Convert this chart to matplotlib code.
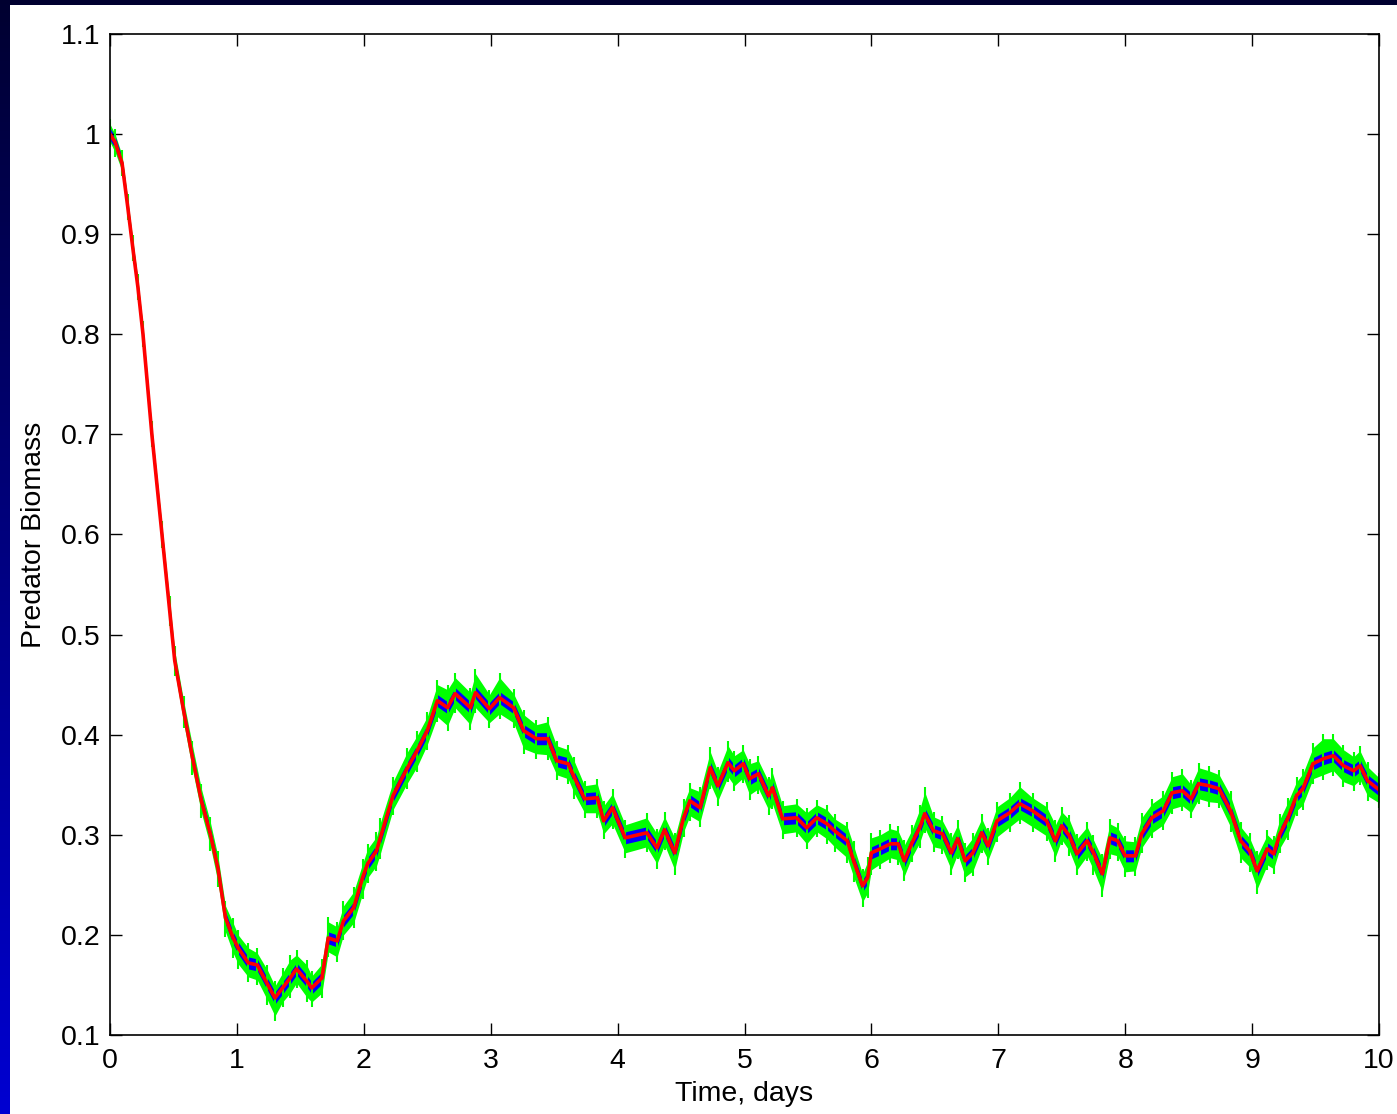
import numpy as np
import matplotlib
matplotlib.use("Agg")
import matplotlib.pyplot as plt
from matplotlib.patches import Rectangle

# centre path of the runs (red line)
t_days = [0.00, 0.04, 0.095, 0.14, 0.18, 0.22, 0.26, 0.33, 0.41, 0.47,
          0.51, 0.58, 0.65, 0.72, 0.79, 0.85, 0.91, 0.97, 1.01, 1.09,
          1.16, 1.24, 1.30, 1.36, 1.42, 1.47, 1.55, 1.59, 1.67, 1.72,
          1.79, 1.84, 1.92, 1.99, 2.03, 2.10, 2.13, 2.23, 2.34, 2.42,
          2.50, 2.58, 2.66, 2.72, 2.84, 2.88, 2.99, 3.07, 3.18, 3.26,
          3.36, 3.45, 3.52, 3.61, 3.66, 3.74, 3.84, 3.89, 3.96, 4.06,
          4.23, 4.31, 4.37, 4.45, 4.52, 4.57, 4.65, 4.73, 4.79, 4.87,
          4.92, 4.99, 5.04, 5.11, 5.19, 5.22, 5.30, 5.41, 5.49, 5.57,
          5.65, 5.71, 5.81, 5.86, 5.93, 5.97, 6.00, 6.07, 6.15, 6.21,
          6.26, 6.32, 6.38, 6.42, 6.49, 6.56, 6.63, 6.68, 6.74, 6.80,
          6.87, 6.92, 6.99, 7.09, 7.17, 7.27, 7.38, 7.45, 7.50, 7.56,
          7.62, 7.70, 7.75, 7.82, 7.88, 7.94, 8.00, 8.08, 8.13, 8.21,
          8.30, 8.37, 8.45, 8.52, 8.58, 8.66, 8.74, 8.83, 8.91, 8.98,
          9.04, 9.12, 9.17, 9.22, 9.28, 9.35, 9.40, 9.48, 9.56, 9.64,
          9.72, 9.80, 9.85, 9.91, 10.00]

biomass = [1.000, 0.992, 0.971, 0.927, 0.886, 0.847, 0.800, 0.700, 0.600, 0.524,
           0.474, 0.424, 0.377, 0.334, 0.301, 0.267, 0.217, 0.197, 0.187, 0.172,
           0.170, 0.151, 0.137, 0.147, 0.157, 0.166, 0.154, 0.147, 0.157, 0.197,
           0.194, 0.214, 0.227, 0.257, 0.271, 0.284, 0.297, 0.339, 0.366, 0.384,
           0.404, 0.434, 0.427, 0.441, 0.427, 0.442, 0.426, 0.437, 0.427, 0.404,
           0.396, 0.396, 0.374, 0.371, 0.357, 0.336, 0.337, 0.314, 0.327, 0.297,
           0.302, 0.287, 0.305, 0.282, 0.317, 0.334, 0.327, 0.367, 0.349, 0.372,
           0.364, 0.371, 0.356, 0.361, 0.339, 0.347, 0.316, 0.317, 0.307, 0.317,
           0.311, 0.304, 0.294, 0.274, 0.249, 0.257, 0.282, 0.286, 0.291, 0.291,
           0.274, 0.292, 0.307, 0.321, 0.304, 0.301, 0.282, 0.296, 0.274, 0.282,
           0.302, 0.289, 0.314, 0.322, 0.331, 0.324, 0.314, 0.294, 0.309, 0.299,
           0.281, 0.294, 0.282, 0.261, 0.297, 0.294, 0.279, 0.279, 0.301, 0.317,
           0.324, 0.342, 0.344, 0.336, 0.351, 0.349, 0.346, 0.324, 0.294, 0.284,
           0.264, 0.286, 0.281, 0.301, 0.316, 0.339, 0.346, 0.371, 0.376, 0.379,
           0.369, 0.364, 0.369, 0.354, 0.345]

# spread of the noisiest run (green) above / below the centre path
green_up = [0.010, 0.008, 0.008, 0.008, 0.008, 0.008, 0.008, 0.008, 0.008, 0.010,
            0.010, 0.010, 0.012, 0.012, 0.012, 0.012, 0.012, 0.015, 0.013, 0.015,
            0.012, 0.014, 0.012, 0.015, 0.018, 0.014, 0.016, 0.012, 0.014, 0.016,
            0.014, 0.015, 0.016, 0.014, 0.015, 0.014, 0.015, 0.014, 0.016, 0.015,
            0.014, 0.016, 0.018, 0.016, 0.015, 0.019, 0.014, 0.020, 0.014, 0.016,
            0.014, 0.017, 0.015, 0.014, 0.016, 0.013, 0.014, 0.015, 0.014, 0.013,
            0.015, 0.014, 0.013, 0.015, 0.014, 0.013, 0.016, 0.016, 0.014, 0.017,
            0.015, 0.014, 0.015, 0.013, 0.014, 0.015, 0.013, 0.014, 0.015, 0.013,
            0.014, 0.012, 0.014, 0.015, 0.012, 0.016, 0.015, 0.014, 0.015, 0.013,
            0.016, 0.013, 0.018, 0.022, 0.014, 0.013, 0.015, 0.014, 0.013, 0.015,
            0.014, 0.013, 0.014, 0.015, 0.017, 0.013, 0.014, 0.016, 0.014, 0.016,
            0.015, 0.014, 0.013, 0.015, 0.014, 0.013, 0.015, 0.014, 0.016, 0.014,
            0.015, 0.016, 0.017, 0.014, 0.016, 0.015, 0.014, 0.015, 0.014, 0.013,
            0.015, 0.014, 0.013, 0.015, 0.016, 0.014, 0.015, 0.016, 0.020, 0.017,
            0.016, 0.014, 0.015, 0.014, 0.012]

green_dn = [0.008, 0.010, 0.008, 0.008, 0.008, 0.008, 0.008, 0.008, 0.008, 0.010,
            0.010, 0.012, 0.012, 0.012, 0.012, 0.014, 0.014, 0.015, 0.016, 0.014,
            0.015, 0.016, 0.018, 0.014, 0.015, 0.014, 0.016, 0.014, 0.015, 0.014,
            0.016, 0.014, 0.015, 0.016, 0.014, 0.015, 0.016, 0.014, 0.015, 0.016,
            0.014, 0.016, 0.018, 0.014, 0.017, 0.015, 0.014, 0.016, 0.015, 0.018,
            0.015, 0.016, 0.014, 0.015, 0.016, 0.014, 0.015, 0.013, 0.016, 0.015,
            0.014, 0.016, 0.015, 0.017, 0.014, 0.015, 0.014, 0.016, 0.015, 0.014,
            0.015, 0.014, 0.016, 0.015, 0.014, 0.016, 0.015, 0.014, 0.016, 0.014,
            0.015, 0.016, 0.017, 0.016, 0.016, 0.015, 0.017, 0.015, 0.014, 0.016,
            0.015, 0.014, 0.015, 0.014, 0.016, 0.015, 0.017, 0.015, 0.016, 0.018,
            0.015, 0.014, 0.016, 0.014, 0.015, 0.016, 0.015, 0.016, 0.014, 0.015,
            0.016, 0.015, 0.017, 0.018, 0.016, 0.015, 0.016, 0.015, 0.014, 0.015,
            0.014, 0.016, 0.015, 0.014, 0.015, 0.016, 0.014, 0.016, 0.017, 0.016,
            0.018, 0.016, 0.015, 0.014, 0.016, 0.015, 0.016, 0.015, 0.016, 0.015,
            0.016, 0.015, 0.014, 0.015, 0.013]

# blue run sits close to the red one
blue_spread = 0.006

x_ticks = [0, 1, 2, 3, 4, 5, 6, 7, 8, 9, 10]
y_ticks = [0.1, 0.2, 0.3, 0.4, 0.5, 0.6, 0.7, 0.8, 0.9, 1.0, 1.1]
y_ticklabels = ["0.1", "0.2", "0.3", "0.4", "0.5", "0.6", "0.7", "0.8", "0.9", "1", "1.1"]

plt.rcParams['font.family'] = ['Liberation Sans', 'DejaVu Sans']

W, H = 1397, 1114
fig = plt.figure(figsize=(W / 100, H / 100), dpi=100)

# slide background: blue gradient strip on the left and a dark strip on top
bg = fig.add_axes([0, 0, 1, 1])
grad = np.linspace(0, 1, 256).reshape(-1, 1)
cols = np.zeros((256, 1, 3))
cols[:, 0, 2] = 0.19 + 0.63 * grad[:, 0]
bg.imshow(cols, aspect='auto', extent=[0, 1, 0, 1], origin='upper')
bg.add_patch(Rectangle((10 / W, 0), 1, (H - 5) / H, transform=bg.transAxes,
                       facecolor='white', edgecolor='none'))
bg.set_axis_off()

ax = fig.add_axes([110 / W, 79 / H, 1269 / W, 1001 / H])

t = np.array(t_days)
b = np.array(biomass)
lo_g = b - np.array(green_dn)
hi_g = b + np.array(green_up)

ax.fill_between(t, lo_g, hi_g, color='#00ff00', linewidth=0)
ax.vlines(t, lo_g - 0.005, hi_g + 0.005, color='#00ff00', linewidth=1.5)
ax.fill_between(t, b - blue_spread, b + blue_spread, color='#0000ff', linewidth=0)
ax.plot(t, b, color='#ff0000', linewidth=2.6)

ax.set_xlim(0, 10)
ax.set_ylim(0.1, 1.1)
ax.set_xticks(x_ticks)
ax.set_yticks(y_ticks)
ax.set_yticklabels(y_ticklabels)
ax.tick_params(direction='in', length=8.5, width=1, top=True, right=True,
               labelsize=20.5, colors='black')
ax.tick_params(axis='x', pad=9)
ax.tick_params(axis='y', pad=7)
for s in ax.spines.values():
    s.set_linewidth(1.2)

ax.set_xlabel('Time, days', fontsize=20.5)
ax.set_ylabel('Predator Biomass', fontsize=20.5)
ax.xaxis.set_label_coords(0.5, -0.046)
ax.yaxis.set_label_coords(-0.050, 0.5)

fig.savefig('out.png', dpi=100)
